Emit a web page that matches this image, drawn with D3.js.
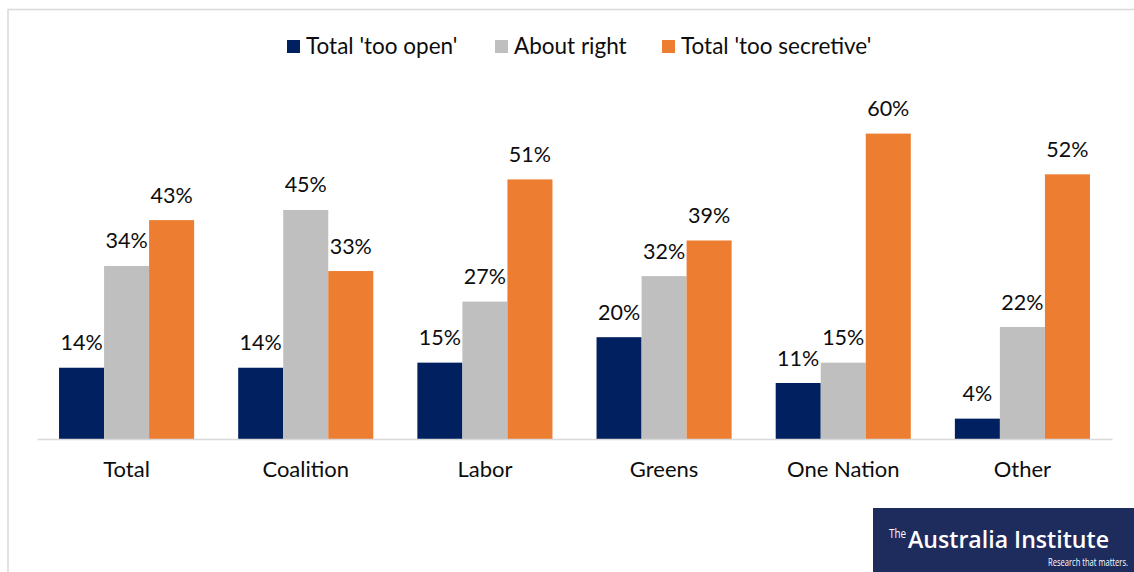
<!DOCTYPE html>
<html>
<head>
<meta charset="utf-8">
<script src="https://cdn.jsdelivr.net/npm/d3@7"></script>
<style>
  body { margin: 0; background: #fff; }
  svg { display: block; font-family: Lato, "Open Sans", sans-serif; }
</style>
</head>
<body>
<div id="chart"></div>
<script>
const categories = ['Total', 'Coalition', 'Labor', 'Greens', 'One Nation', 'Other'];
const seriesNames = ["Total 'too open'", 'About right', "Total 'too secretive'"];
const tooOpen = [14, 14, 15, 20, 11, 4];
const aboutRight = [34, 45, 27, 32, 15, 22];
const tooSecretive = [43, 33, 51, 39, 60, 52];
const colors = ['#002060', '#BFBFBF', '#ED7D31'];

const width = 1134;
const height = 572;

// rows built from the arrays above
const rows = categories.map((c, i) => ({
  category: c,
  values: [tooOpen[i], aboutRight[i], tooSecretive[i]].map((v, j) => ({ series: seriesNames[j], value: v, idx: j }))
}));

const svg = d3.select('#chart').append('svg')
  .attr('width', width)
  .attr('height', height);

// light frame round the chart area
svg.append('path')
  .attr('d', `M8,${height} L8,9.5 L${width},9.5`)
  .attr('fill', 'none')
  .attr('stroke', '#d9d9d9')
  .attr('stroke-width', 1.5);

const x0 = d3.scaleBand()
  .domain(categories)
  .range([37, 1112]);

const gap = x0.bandwidth() * 0.123;
const x1 = d3.scaleBand()
  .domain(seriesNames)
  .range([gap, x0.bandwidth() - gap]);

const y = d3.scaleLinear()
  .domain([0, 70])
  .range([439, 82.7]);

const groups = svg.selectAll('.cat')
  .data(rows)
  .enter()
  .append('g')
  .attr('class', 'cat')
  .attr('transform', d => `translate(${x0(d.category)},0)`);

groups.selectAll('rect')
  .data(d => d.values)
  .enter()
  .append('rect')
  .attr('x', d => x1(d.series))
  .attr('y', d => y(d.value))
  .attr('width', x1.bandwidth())
  .attr('height', d => y(0) - y(d.value))
  .attr('fill', d => colors[d.idx]);

groups.selectAll('.lbl')
  .data(d => d.values)
  .enter()
  .append('text')
  .attr('class', 'lbl')
  .attr('x', d => x1(d.series) + x1.bandwidth() / 2)
  .attr('y', d => y(d.value) - 17.5)
  .attr('text-anchor', 'middle')
  .style('font-size', '21.5px')
  .style('fill', '#0d0d0d')
  .text(d => d.value + '%');

const xAxis = d3.axisBottom(x0).tickSize(0).tickPadding(22);
const axisG = svg.append('g')
  .attr('transform', `translate(0,${y(0)})`)
  .call(xAxis);
axisG.select('.domain').attr('stroke', '#d9d9d9').attr('stroke-width', 1.5);
axisG.selectAll('text')
  .style('font-size', '22px')
  .style('font-family', 'Lato, "Open Sans", sans-serif')
  .style('fill', '#0d0d0d');

// legend
const legendX = [287, 495, 662];
const legend = svg.append('g');
seriesNames.forEach((name, i) => {
  legend.append('rect')
    .attr('x', legendX[i])
    .attr('y', 40)
    .attr('width', 13)
    .attr('height', 13)
    .attr('fill', colors[i]);
  legend.append('text')
    .attr('x', legendX[i] + 19)
    .attr('y', 54)
    .style('font-size', '22.5px')
    .style('fill', '#0d0d0d')
    .text(name);
});

// logo block
const logo = svg.append('g');
logo.append('rect')
  .attr('x', 873)
  .attr('y', 508)
  .attr('width', width - 873)
  .attr('height', height - 508)
  .attr('fill', '#1d2b5d');
logo.append('text')
  .attr('x', 889)
  .attr('y', 538)
  .attr('textLength', 17)
  .attr('lengthAdjust', 'spacingAndGlyphs')
  .style('font-size', '12px')
  .style('font-family', '"Open Sans", sans-serif')
  .style('fill', '#fff')
  .text('The');
logo.append('text')
  .attr('x', 908)
  .attr('y', 548)
  .attr('textLength', 201)
  .attr('lengthAdjust', 'spacingAndGlyphs')
  .style('font-size', '24px')
  .style('font-weight', '600')
  .style('font-family', '"Open Sans", sans-serif')
  .style('fill', '#fff')
  .text('Australia Institute');
logo.append('text')
  .attr('x', 1128)
  .attr('y', 566)
  .attr('text-anchor', 'end')
  .attr('textLength', 80)
  .attr('lengthAdjust', 'spacingAndGlyphs')
  .style('font-size', '10px')
  .style('font-family', '"Open Sans", sans-serif')
  .style('fill', '#fff')
  .text('Research that matters.');
</script>
</body>
</html>
